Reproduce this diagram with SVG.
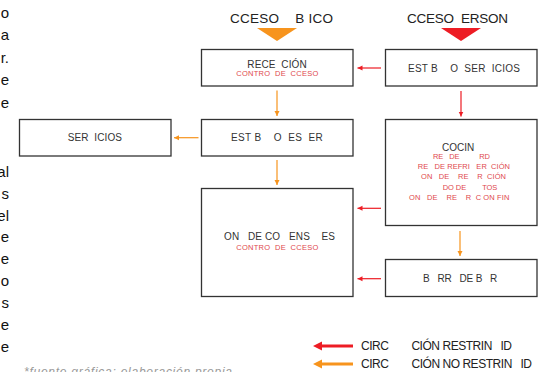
<svg xmlns="http://www.w3.org/2000/svg" width="538" height="372" viewBox="0 0 538 372">
<style>
.box{fill:#fff;stroke:#333;stroke-width:1.3}
.t{font-family:"Liberation Sans",Arial,sans-serif;fill:#333;white-space:pre}
.lbl{font-size:10px}
.sub{font-size:7.5px;fill:#E0474C}
.title{font-size:13.5px;fill:#222}
.side{font-size:15px;fill:#111;text-anchor:end}
.leg{font-size:12px;fill:#222}
.cr{stroke:#ED1C24;stroke-width:1.2;fill:none}
.co{stroke:#F7941D;stroke-width:1.2;fill:none}
</style>
<defs>
<marker id="hr" markerWidth="6" markerHeight="6" refX="5" refY="3" orient="auto" markerUnits="userSpaceOnUse"><path d="M0,0.5 L5,3 L0,5.5 Z" fill="#ED1C24"/></marker>
<marker id="ho" markerWidth="6" markerHeight="6" refX="5" refY="3" orient="auto" markerUnits="userSpaceOnUse"><path d="M0,0.5 L5,3 L0,5.5 Z" fill="#F7941D"/></marker>
</defs>
<g id="side-text" class="t side">
<text x="9" y="17.5">o</text>
<text x="9" y="40">a</text>
<text x="9" y="62.5">r.</text>
<text x="9" y="85">e</text>
<text x="9" y="107.5">e</text>
<text x="9" y="176.7">al</text>
<text x="9" y="198.6">s</text>
<text x="9" y="220.5">el</text>
<text x="9" y="242.4">e</text>
<text x="9" y="264.3">e</text>
<text x="9" y="286.2">o</text>
<text x="9" y="308.1">s</text>
<text x="9" y="330">e</text>
<text x="9" y="351.9">e</text>
</g>
<text class="t" x="24" y="376" style="font-size:12px;font-style:italic;fill:#999" textLength="208">*fuente gráfica: elaboración propia</text>
<g id="head-publico">
<text class="t title" x="230" y="23" textLength="103">CCESO    B ICO</text>
<path d="M257,28 L297,28 L277,41 Z" fill="#F7941D"/>
</g>
<g id="head-personal">
<text class="t title" x="407" y="23" textLength="101">CCESO  ERSON</text>
<path d="M441,28 L481,28 L461,41 Z" fill="#ED1C24"/>
</g>
<g id="recepcion">
<rect class="box" x="201.5" y="49.5" width="151.5" height="36.5"/>
<text class="t lbl" x="247.3" y="67.7" textLength="59.4">RECE  CIÓN</text>
<text class="t sub" x="236.3" y="75.5" textLength="82">CONTRO  DE  CCESO</text>
</g>
<g id="estb-servicios">
<rect class="box" x="385.5" y="49.5" width="151.5" height="36.5"/>
<text class="t lbl" x="408" y="71.5" textLength="112">EST B    O  SER  ICIOS</text>
</g>
<g id="servicios">
<rect class="box" x="19.5" y="119.5" width="151.5" height="36.5"/>
<text class="t lbl" x="67.7" y="140.5" textLength="54.3">SER  ICIOS</text>
</g>
<g id="estb-estar">
<rect class="box" x="201.5" y="119.5" width="151.5" height="36.5"/>
<text class="t lbl" x="231" y="140.7" textLength="91.7">EST B    O  ES  ER</text>
</g>
<g id="condensadores">
<rect class="box" x="201.5" y="188.5" width="151.5" height="108"/>
<text class="t lbl" x="224" y="240.3" textLength="111">ON   DE CO   ENS    ES</text>
<text class="t sub" x="236.3" y="249.9" textLength="82">CONTRO  DE  CCESO</text>
</g>
<g id="cocina">
<rect class="box" x="385.5" y="119.5" width="151.5" height="106"/>
<text class="t lbl" x="442" y="151.3" textLength="32.3">COCIN</text>
<text class="t sub" x="433" y="159" textLength="57">RE   DE          RD</text>
<text class="t sub" x="417.7" y="169" textLength="92.3">RE   DE REFRI   ER  CIÓN</text>
<text class="t sub" x="421" y="179" textLength="85">ON   DE    RE    R  CIÓN</text>
<text class="t sub" x="442.7" y="190.2" textLength="54.6">DO DE        TOS</text>
<text class="t sub" x="409" y="199.5" textLength="100.3">ON   DE    RE    R  C ON FIN</text>
</g>
<g id="barra">
<rect class="box" x="385.5" y="259.5" width="151.5" height="37"/>
<text class="t lbl" x="423" y="281.7" textLength="74.3">B   RR   DE B   R</text>
</g>
<g id="connectors">
<line class="co" x1="277" y1="90.5" x2="277" y2="116" marker-end="url(#ho)"/>
<line class="cr" x1="381" y1="68" x2="357.5" y2="68" marker-end="url(#hr)"/>
<line class="cr" x1="461" y1="91" x2="461" y2="116.5" marker-end="url(#hr)"/>
<line class="co" x1="198.5" y1="137.7" x2="174" y2="137.7" marker-end="url(#ho)"/>
<line class="co" x1="277" y1="160" x2="277" y2="185" marker-end="url(#ho)"/>
<line class="cr" x1="381" y1="208.3" x2="357.5" y2="208.3" marker-end="url(#hr)"/>
<line class="co" x1="460" y1="231" x2="460" y2="256" marker-end="url(#ho)"/>
<line class="cr" x1="381" y1="278.7" x2="357.5" y2="278.7" marker-end="url(#hr)"/>
</g>
<g id="legend">
<line x1="320" y1="346" x2="353" y2="346" stroke="#ED1C24" stroke-width="3"/>
<path d="M313,346 L322,341.5 L322,350.5 Z" fill="#ED1C24"/>
<text class="t leg" x="361" y="350" textLength="151">CIRC        CIÓN RESTRIN   ID</text>
<line x1="320" y1="364" x2="353" y2="364" stroke="#F7941D" stroke-width="3"/>
<path d="M313,364 L322,359.5 L322,368.5 Z" fill="#F7941D"/>
<text class="t leg" x="361" y="368" textLength="171">CIRC        CIÓN NO RESTRIN   ID</text>
</g>
</svg>
